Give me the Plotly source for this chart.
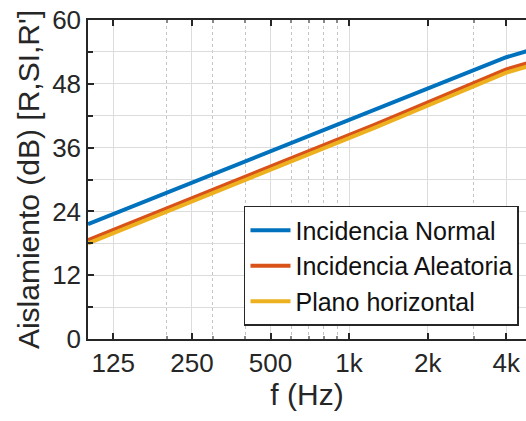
import plotly.graph_objects as go

freqs = [100, 125, 160, 200, 250, 315, 400, 500, 630, 800, 1000, 1250, 1600, 2000, 2500, 3150, 4000, 5000]
normal = [21.6, 23.5, 25.6, 27.5, 29.4, 31.4, 33.4, 35.3, 37.3, 39.3, 41.2, 43.1, 45.2, 47.1, 49.0, 51.0, 53.0, 54.4]
aleatoria = [18.6, 20.5, 22.6, 24.5, 26.4, 28.4, 30.4, 32.3, 34.3, 36.4, 38.3, 40.3, 42.5, 44.5, 46.5, 48.6, 50.7, 52.1]
horizontal = [18.0, 19.9, 22.0, 23.9, 25.8, 27.8, 29.8, 31.7, 33.7, 35.8, 37.7, 39.7, 41.9, 43.9, 45.9, 48.0, 50.1, 51.5]

names = ["Incidencia Normal", "Incidencia Aleatoria", "Plano horizontal"]
colors = ["#0072BD", "#D95319", "#EDB120"]

x_tickvals = [125, 250, 500, 1000, 2000, 4000]
x_ticktext = ["125", "250", "500", "1k", "2k", "4k"]
x_minor = [200, 300, 400, 600, 700, 800, 900, 3000]
y_tickvals = [0, 12, 24, 36, 48, 60]

FONT = "Liberation Sans, Arial, sans-serif"
AX = "#262626"

fig = go.Figure()
for name, ys, c in zip(names, [normal, aleatoria, horizontal], colors):
    fig.add_trace(go.Scatter(x=freqs, y=ys, mode="lines", name=name,
                             line=dict(color=c, width=4)))

fig.update_layout(
    width=526, height=421,
    margin=dict(l=88, r=0, t=20, b=82),
    paper_bgcolor="white", plot_bgcolor="white",
    font=dict(family=FONT, size=25, color=AX),
    showlegend=True,
    legend=dict(x=0.984, y=0.041, xanchor="right", yanchor="bottom",
                bgcolor="white", bordercolor=AX, borderwidth=1.5,
                font=dict(size=25, color="#111"), tracegroupgap=0,
                itemwidth=40),
)

fig.update_xaxes(
    type="log", range=[2, 3.6775],
    tickmode="array", tickvals=x_tickvals, ticktext=x_ticktext,
    ticks="inside", ticklen=6, tickwidth=1.5, tickcolor=AX,
    showline=True, linecolor=AX, linewidth=1.5, mirror="ticks",
    showgrid=True, gridcolor="#dcdcdc", gridwidth=1,
    zeroline=False,
    tickfont=dict(size=26, color=AX),
    title=dict(text="f (Hz)", font=dict(size=30, color=AX), standoff=6),
    minor=dict(tickmode="array", tickvals=x_minor, showgrid=True,
               gridcolor="#c4c4c4", griddash="dot", gridwidth=1,
               ticks="inside", ticklen=3, tickcolor="#888"),
)

fig.update_yaxes(
    range=[0, 60],
    tickmode="array", tickvals=y_tickvals,
    ticks="inside", ticklen=6, tickwidth=1.5, tickcolor=AX,
    showline=True, linecolor=AX, linewidth=1.5, mirror=False,
    showgrid=True, gridcolor="#dcdcdc", gridwidth=1,
    zeroline=False,
    tickfont=dict(size=26, color=AX),
    title=dict(text="Aislamiento (dB) [R,SI,R']", font=dict(size=30, color=AX), standoff=4),
    minor=dict(dtick=6, tick0=0, showgrid=True, gridcolor="#dcdcdc",
               ticks="inside", ticklen=5, tickcolor=AX),
)

fig.write_html("out.html")
